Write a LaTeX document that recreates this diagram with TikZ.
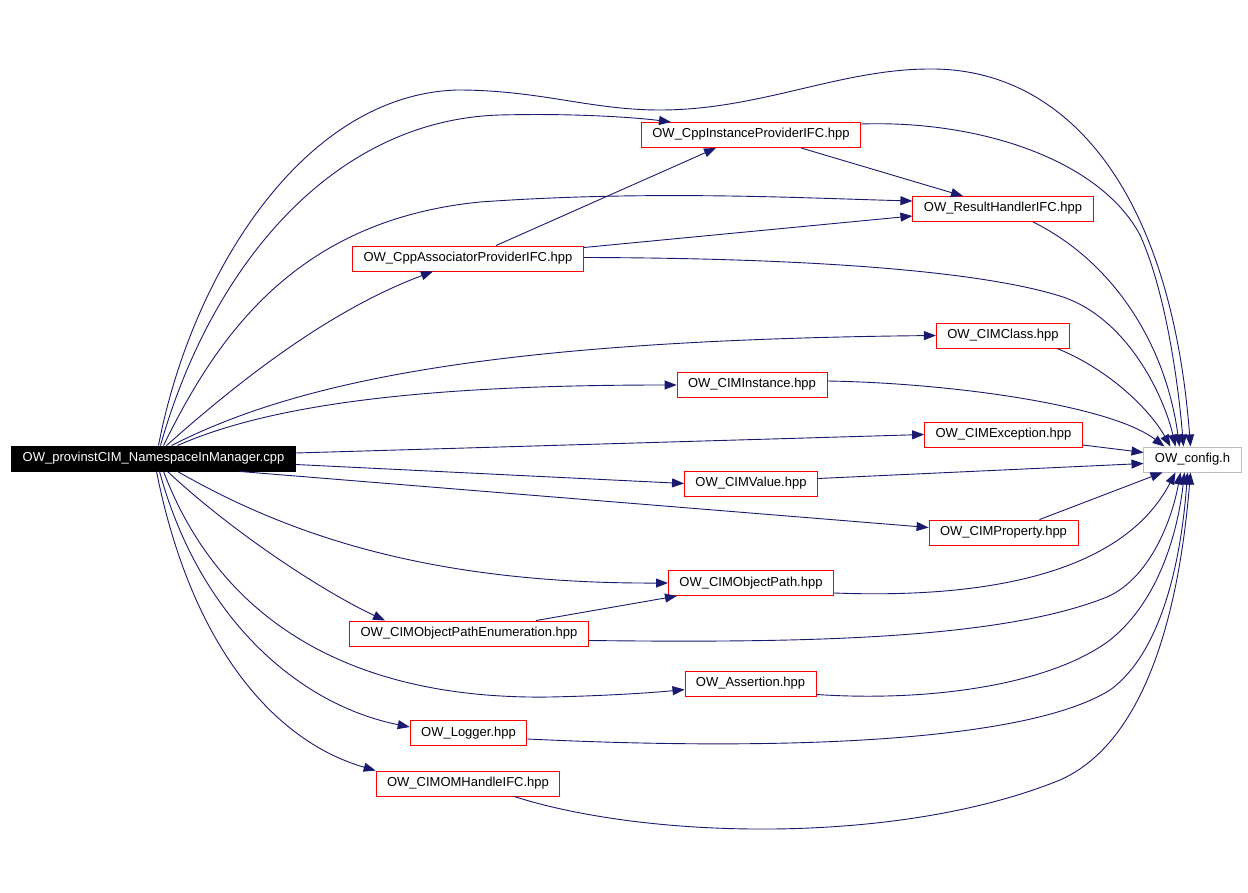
\documentclass[tikz,border=0pt]{standalone}
\usepackage{fontspec}
\setmainfont{Liberation Sans}
\usepackage{xcolor}
\usepackage{tikz}
\usetikzlibrary{shapes,arrows.meta,positioning,calc}
\definecolor{linkblue}{HTML}{191970}
\definecolor{sysgray}{HTML}{BFBFBF}
\tikzset{
  file/.style={draw=red, line width=0.9pt, minimum height=25pt, inner xsep=11pt,
    text height=9pt, text depth=3pt, font=\fontsize{13}{15}\selectfont},
  rootfile/.style={file, draw=black, fill=black, text=white},
  sysfile/.style={file, draw=sysgray},
  inc/.style={draw=linkblue, line width=0.9pt, -{Triangle[length=12pt,width=9pt]}}
}
\begin{document}
\begin{tikzpicture}[x=1pt,y=-1pt]
            \useasboundingbox (0,0) rectangle (1248,893);
            \node[rootfile] (root) at (153.5,458.5) {OW\_provinstCIM\_NamespaceInManager.cpp};
            \node[file] (cppinst) at (751,135) {OW\_CppInstanceProviderIFC.hpp};
            \node[file] (result) at (1003,209) {OW\_ResultHandlerIFC.hpp};
            \node[file] (cppassoc) at (468,258.5) {OW\_CppAssociatorProviderIFC.hpp};
            \node[file] (cimclass) at (1003,335.5) {OW\_CIMClass.hpp};
            \node[file] (ciminst) at (752,385) {OW\_CIMInstance.hpp};
            \node[file] (cimexc) at (1003.5,434.5) {OW\_CIMException.hpp};
            \node[sysfile] (config) at (1192.5,459.5) {OW\_config.h};
            \node[file] (cimval) at (751,483.5) {OW\_CIMValue.hpp};
            \node[file] (cimprop) at (1003.5,532.5) {OW\_CIMProperty.hpp};
            \node[file] (cimop) at (751,583) {OW\_CIMObjectPath.hpp};
            \node[file] (cimope) at (469,633.5) {OW\_CIMObjectPathEnumeration.hpp};
            \node[file] (assert) at (750.5,683.5) {OW\_Assertion.hpp};
            \node[file] (logger) at (468.5,733) {OW\_Logger.hpp};
            \node[file] (cimom) at (468,783.5) {OW\_CIMOMHandleIFC.hpp};
            % from the source file
            \draw[inc] ([xshift=5pt]root.north) .. controls (190,280) and (300,95) .. (457,90)
                .. controls (540,90) and (590,110) .. (660,110)
                .. controls (760,110) and (840,69) .. (930,69)
                .. controls (1060,68) and (1170,180) .. ([xshift=-2pt]config.north);
            \draw[inc] ([xshift=7pt]root.north) .. controls (210,270) and (330,120) .. (500,115)
                .. controls (580,113) and (640,118) .. ([xshift=-80pt]cppinst.north);
            \draw[inc] ([xshift=10pt]root.north) .. controls (220,330) and (300,220) .. (480,202)
                .. controls (650,190) and (800,198) .. ([yshift=8pt]result.west);
            \draw[inc] ([xshift=13pt]root.north) .. controls (240,380) and (330,310) .. ([xshift=-35pt]cppassoc.south);
            \draw[inc] ([xshift=18pt]root.north) .. controls (300,380) and (500,340) .. (cimclass.west);
            \draw[inc] ([xshift=24pt]root.north) .. controls (280,400) and (450,385) .. (ciminst.west);
            \draw[inc] ([yshift=5.5pt]root.east) -- (cimexc.west);
            \draw[inc] ([yshift=-6pt]root.east) -- (cimval.west);
            \draw[inc] ([xshift=86pt]root.south) -- ([yshift=5pt]cimprop.west);
            \draw[inc] ([xshift=24pt]root.south) .. controls (280,530) and (420,584) .. (cimop.west);
            \draw[inc] ([xshift=14pt]root.south) .. controls (230,530) and (320,590) .. ([xshift=-84pt]cimope.north);
            \draw[inc] ([xshift=10pt]root.south) .. controls (220,620) and (350,700) .. (550,697)
                .. controls (600,696) and (650,693) .. ([yshift=-6pt]assert.west);
            \draw[inc] ([xshift=6pt]root.south) .. controls (200,620) and (300,705) .. ([yshift=6pt]logger.west);
            \draw[inc] ([xshift=3pt]root.south) .. controls (190,640) and (270,740) .. (cimom.north west);
            % between the headers
            \draw[inc] ([xshift=28pt]cppassoc.north) -- ([xshift=-35pt]cppinst.south);
            \draw[inc] ([yshift=11pt]cppassoc.east) -- ([yshift=-7pt]result.west);
            \draw[inc] ([xshift=50pt]cppinst.south) -- ([xshift=-40pt]result.north);
            \draw[inc] ([xshift=67pt]cimope.north) -- ([xshift=-74pt]cimop.south);
            % into OW_config.h
            \draw[inc] ([yshift=11pt]cppinst.east) .. controls (980,120) and (1100,160) .. (1140,235)
                .. controls (1165,290) and (1178,380) .. ([xshift=-9pt]config.north);
            \draw[inc] ([xshift=30pt]result.south) .. controls (1110,260) and (1165,340) .. ([xshift=-13pt]config.north);
            \draw[inc] ([yshift=1pt]cppassoc.east) .. controls (800,258) and (980,270) .. (1063,297)
                .. controls (1130,320) and (1165,400) .. ([xshift=-17pt]config.north);
            \draw[inc] ([xshift=54pt]cimclass.south) .. controls (1110,370) and (1150,410) .. ([xshift=-22pt]config.north);
            \draw[inc] ([yshift=4pt]ciminst.east) .. controls (950,383) and (1110,405) .. ([xshift=-28pt]config.north);
            \draw[inc] ([yshift=-10.5pt]cimexc.east) -- ([yshift=7pt]config.west);
            \draw[inc] ([yshift=5pt]cimval.east) -- ([yshift=-4pt]config.west);
            \draw[inc] ([xshift=36pt]cimprop.north) -- ([xshift=-30pt]config.south);
            \draw[inc] ([yshift=-10pt]cimop.east) .. controls (1020,600) and (1130,560) .. ([xshift=-17pt]config.south);
            \draw[inc] ([yshift=-7pt]cimope.east) .. controls (800,643) and (1000,640) .. (1107,597)
                .. controls (1150,578) and (1172,520) .. ([xshift=-12pt]config.south);
            \draw[inc] ([yshift=-11pt]assert.east) .. controls (930,702) and (1050,685) .. (1110,640)
                .. controls (1160,600) and (1178,530) .. ([xshift=-8pt]config.south);
            \draw[inc] ([yshift=-6pt]logger.east) .. controls (800,752) and (1030,740) .. (1110,690)
                .. controls (1165,650) and (1182,550) .. ([xshift=-5pt]config.south);
            \draw[inc] ([xshift=46pt]cimom.south) .. controls (650,840) and (900,845) .. (1060,780)
                .. controls (1150,740) and (1180,600) .. ([xshift=-2pt]config.south);
\end{tikzpicture}
\end{document}
